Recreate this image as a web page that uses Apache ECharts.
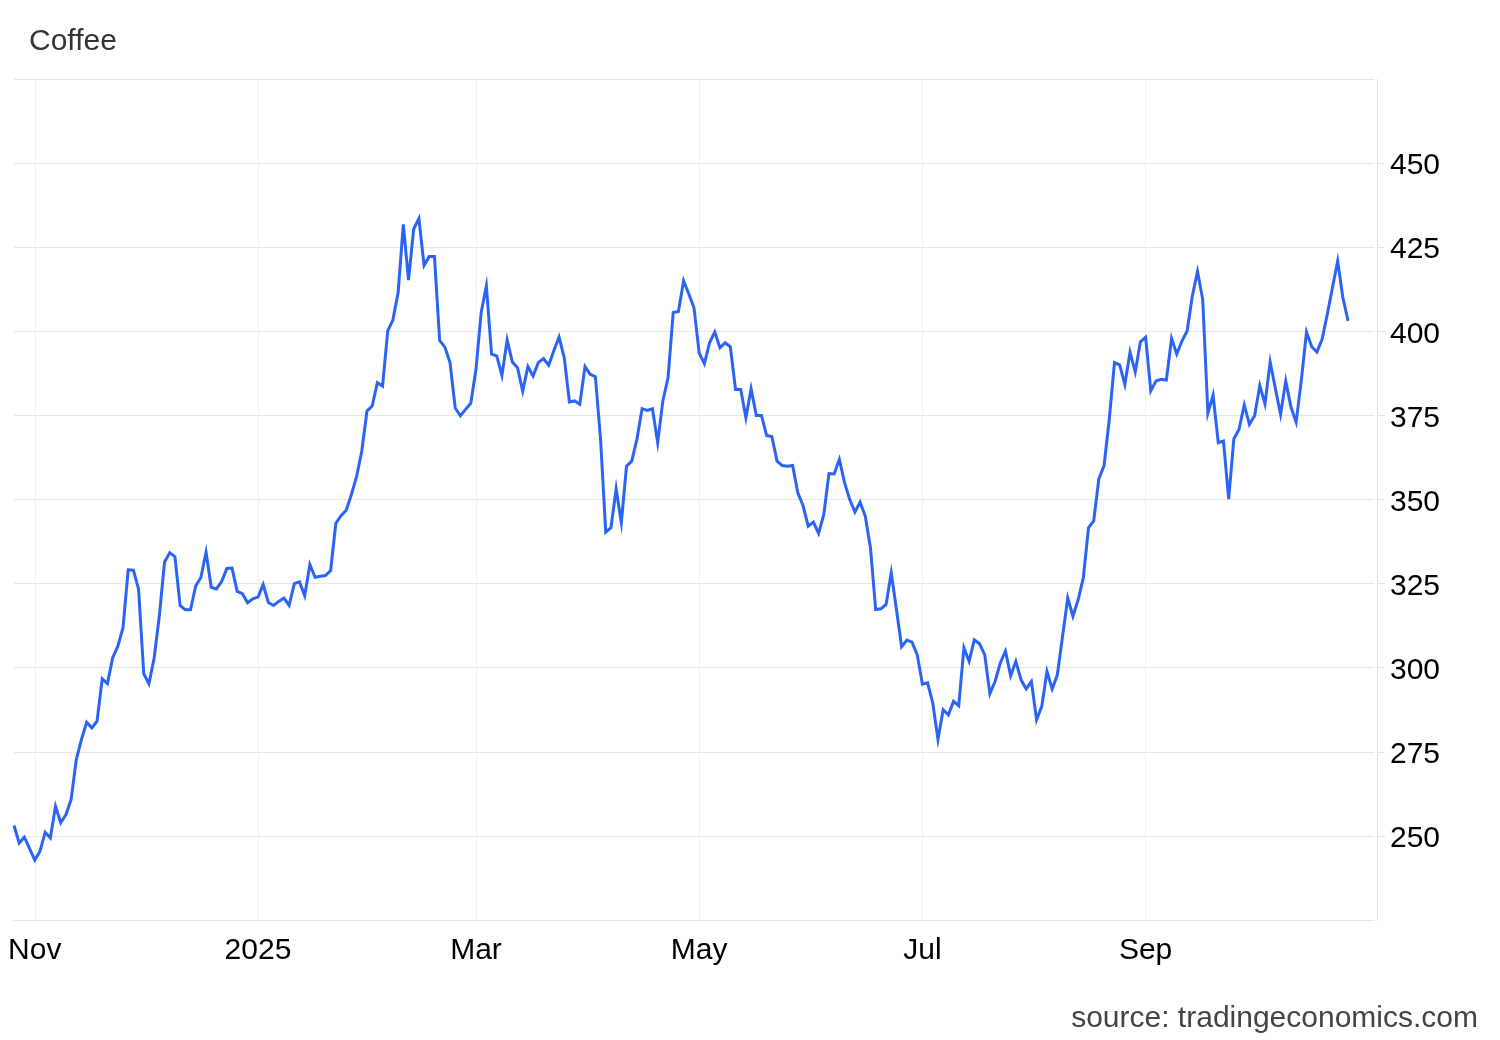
<!DOCTYPE html>
<html>
<head>
<meta charset="utf-8">
<script src="https://cdn.jsdelivr.net/npm/echarts@6/dist/echarts.min.js"></script>
<style>
html,body{margin:0;padding:0;background:#ffffff;}
#chart{width:1500px;height:1040px;}
</style>
</head>
<body>
<div id="chart"></div>
<script>
// ---- data ----
const startDate = '2024-10-28';
const endDate = '2025-10-31';
const holidays = ['2025-01-01', '2025-07-04'];

const prices = [
  253.1, 247.9, 249.6, 246.2, 242.8, 245.4, 251.1, 249.4, 258.8, 253.9,
  256.3, 260.8, 272.7, 278.7, 283.8, 282.1, 284.1, 296.7, 295.3, 302.9,
  306.4, 311.9, 329.1, 329.0, 323.3, 298.2, 295.2, 302.9, 315.4, 331.4,
  334.2, 333.0, 318.5, 317.2, 317.2, 324.3, 326.8, 334.3, 323.9, 323.4,
  325.6, 329.5, 329.6, 322.7, 322.0, 319.3, 320.5, 321.0, 324.7, 319.4,
  318.5, 319.7, 320.7, 318.5, 325.0, 325.5, 321.4, 330.7, 326.9, 327.2,
  327.4, 328.9, 342.9, 345.2, 346.8, 351.5, 356.9, 364.4, 376.3, 377.8,
  384.7, 383.7, 400.1, 403.4, 411.5, 431.8, 415.2, 430.4, 433.5, 419.6,
  422.2, 422.2, 397.3, 395.3, 390.7, 377.2, 374.9, 376.8, 378.6, 388.7,
  405.6, 413.5, 393.2, 392.7, 386.9, 397.4, 390.9, 389.2, 382.2, 389.5,
  386.7, 390.7, 391.9, 389.9, 394.2, 398.3, 392.2, 379.0, 379.3, 378.3,
  389.5, 387.2, 386.5, 367.9, 340.3, 341.6, 353.2, 343.1, 359.9, 361.4,
  367.9, 377.0, 376.5, 377.0, 366.9, 379.3, 386.2, 405.6, 405.9, 415.0,
  411.1, 407.0, 393.5, 390.4, 396.6, 399.8, 395.1, 396.6, 395.4, 382.7,
  382.7, 374.3, 382.9, 375.0, 375.0, 369.0, 368.7, 361.4, 360.1, 359.9,
  360.1, 352.0, 348.2, 342.1, 343.3, 339.9, 345.5, 357.7, 357.6, 361.9,
  355.0, 350.0, 346.3, 349.2, 345.0, 335.6, 317.3, 317.5, 318.8, 328.2,
  317.3, 306.2, 308.2, 307.6, 303.9, 295.1, 295.5, 289.5, 278.7, 287.5,
  286.0, 290.0, 288.7, 305.9, 301.9, 308.3, 307.1, 303.9, 292.3, 295.9,
  301.4, 304.9, 297.6, 301.9, 296.4, 293.7, 295.9, 284.5, 288.5, 298.9,
  293.7, 297.9, 309.3, 320.7, 315.3, 320.2, 326.7, 341.6, 343.6, 356.2,
  360.1, 373.8, 390.7, 390.0, 384.2, 393.8, 387.9, 396.9, 398.2, 382.3,
  385.2, 385.7, 385.5, 397.9, 393.2, 397.1, 400.1, 410.5, 417.8, 409.5,
  375.7, 381.0, 366.9, 367.4, 350.1, 368.0, 370.9, 378.1, 372.3, 374.9,
  383.9, 378.4, 390.9, 383.0, 375.3, 385.2, 377.5, 373.0, 385.5, 399.8,
  395.4, 393.8, 397.6, 405.1, 413.0, 420.9, 410.0, 403.1
];

const tickDates = ['2024-11-01', '2025-01-02', '2025-03-03', '2025-05-01', '2025-07-01', '2025-09-01'];
const tickLabels = ['Nov', '2025', 'Mar', 'May', 'Jul', 'Sep'];

const yMin = 225, yMax = 475, yStep = 25;

// ---- build trading-day categories ----
function pad(n) { return n < 10 ? '0' + n : '' + n; }
function buildDays(s, e, skip) {
  const out = [];
  const d = new Date(s + 'T00:00:00Z');
  const end = new Date(e + 'T00:00:00Z');
  while (d <= end) {
    const wd = d.getUTCDay();
    const key = d.getUTCFullYear() + '-' + pad(d.getUTCMonth() + 1) + '-' + pad(d.getUTCDate());
    if (wd !== 0 && wd !== 6 && skip.indexOf(key) < 0) out.push(key);
    d.setUTCDate(d.getUTCDate() + 1);
  }
  return out;
}
const days = buildDays(startDate, endDate, holidays);
const labelMap = {};
tickDates.forEach((d, i) => { labelMap[d] = tickLabels[i]; });
const isTick = (idx, val) => labelMap[val] !== undefined;

const FONT = '"Liberation Sans", Arial, sans-serif';
const chart = echarts.init(document.getElementById('chart'), null, { renderer: 'canvas' });
chart.setOption({
  animation: false,
  backgroundColor: '#ffffff',
  title: {
    text: 'Coffee',
    left: 24,
    top: 22,
    textStyle: { fontFamily: FONT, fontSize: 30, fontWeight: 'normal', color: '#333333' }
  },
  graphic: [{
    type: 'text',
    right: 22,
    top: 1004,
    style: { text: 'source: tradingeconomics.com', font: '30px ' + FONT, fill: '#444444' }
  }],
  grid: { left: 14, right: 126, top: 79, bottom: 120, containLabel: false },
  xAxis: {
    type: 'category',
    data: days,
    boundaryGap: false,
    axisLine: { show: true, lineStyle: { color: '#e6e6e6', width: 1 } },
    axisTick: { show: false },
    axisLabel: {
      interval: isTick,
      formatter: v => labelMap[v] || '',
      margin: 16,
      fontFamily: FONT,
      fontSize: 30,
      color: '#000000'
    },
    splitLine: { show: true, interval: isTick, lineStyle: { color: '#edf1f4', width: 1 } }
  },
  yAxis: {
    type: 'value',
    position: 'right',
    offset: 3,
    min: yMin,
    max: yMax,
    interval: yStep,
    axisLine: { show: true, lineStyle: { color: '#e6e6e6', width: 1 } },
    axisTick: { show: true, length: 8, lineStyle: { color: '#e6e6e6' } },
    axisLabel: {
      showMinLabel: false,
      showMaxLabel: false,
      margin: 13,
      formatter: v => '{n|' + v + '}',
      rich: {
        n: { fontFamily: FONT, fontSize: 30, color: '#000000', padding: [6, 0, 0, 0] }
      },
      fontFamily: FONT,
      fontSize: 30,
      color: '#000000'
    },
    splitLine: { show: true, lineStyle: { color: '#e6e6e6', width: 1 } }
  },
  series: [{
    type: 'line',
    data: prices,
    symbol: 'none',
    lineStyle: { color: '#2b64f5', width: 3, join: 'miter' },
    itemStyle: { color: '#2b64f5' }
  }]
});
</script>
</body>
</html>
